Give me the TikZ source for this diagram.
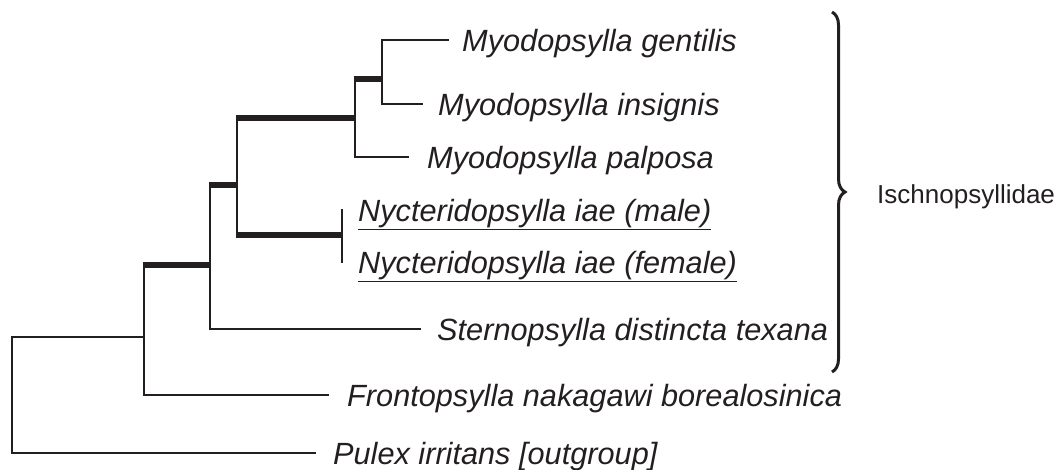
\documentclass[tikz,border=0pt]{standalone}
\usepackage{fontspec}
\setmainfont{Liberation Sans}
\usetikzlibrary{decorations.pathreplacing}
\definecolor{ink}{RGB}{35,31,32}
\begin{document}
\begin{tikzpicture}[x=1pt,y=-1pt,
  branch/.style={draw=ink, line width=2.8pt, line cap=rect},
  strong/.style={draw=ink, line width=6pt, shorten <=-1.4pt},
  taxon/.style={anchor=west, inner sep=0pt, text=ink, text height=28pt, text depth=6pt, font=\fontsize{30.7}{36}\selectfont\itshape},
  clade/.style={anchor=west, inner sep=0pt, text=ink, text height=19pt, text depth=0pt, font=\fontsize{26}{30}\selectfont},
  bracket/.style={draw=ink, line width=3pt, decorate, decoration={brace, amplitude=13pt, aspect=0.5}}]
\useasboundingbox (0,0) rectangle (1058,469);
\coordinate (nR) at (12,337);
\coordinate (nA) at (144,337);
\coordinate (nB) at (210,265);
\coordinate (nC) at (237,185);
\coordinate (nD) at (355,118);
\coordinate (nE) at (382,79);
\coordinate (nN) at (342,235);
\node[taxon] (gen) at (462,40) {Myodopsylla gentilis};
\node[taxon] (ins) at (438,104) {Myodopsylla insignis};
\node[taxon] (pal) at (427,157) {Myodopsylla palposa};
\node[taxon] (mal) at (358,210) {\underline{Nycteridopsylla iae (male)}};
\node[taxon] (fem) at (358,262) {\underline{Nycteridopsylla iae (female)}};
\node[taxon] (ste) at (437,329) {Sternopsylla distincta texana};
\node[taxon] (fro) at (347,395) {Frontopsylla nakagawi borealosinica};
\node[taxon] (pul) at (333,453) {Pulex irritans [outgroup]};
\node[clade] (fam) at (877,194) {Ischnopsyllidae};
\draw[branch] (nR) -- (nA);
\draw[branch] (nR) |- ([xshift=-18pt]pul.west);
\draw[branch] (nA) |- ([xshift=-19pt]fro.west);
\draw[branch] (nA) -- (nA |- nB);
\draw[strong] (nA |- nB) -- (nB);
\draw[branch] (nB) |- ([xshift=-17pt]ste.west);
\draw[branch] (nB) -- (nB |- nC);
\draw[strong] (nB |- nC) -- (nC);
\draw[branch] (nC) -- (nC |- nN);
\draw[strong] (nC |- nN) -- (nN);
\draw[branch] (nC) -- (nC |- nD);
\draw[strong] (nC |- nD) -- (nD);
\draw[branch] (nN |- mal.west) -- (nN |- fem.west);
\draw[branch] (nD) |- ([xshift=-19pt]pal.west);
\draw[branch] (nD) -- (nD |- nE);
\draw[strong] (nD |- nE) -- (nE);
\draw[branch] (nE) |- ([xshift=-14pt]gen.west);
\draw[branch] (nE) |- ([xshift=-16pt]ins.west);
\draw[bracket] (832,12) -- (832,372);
\end{tikzpicture}
\end{document}
